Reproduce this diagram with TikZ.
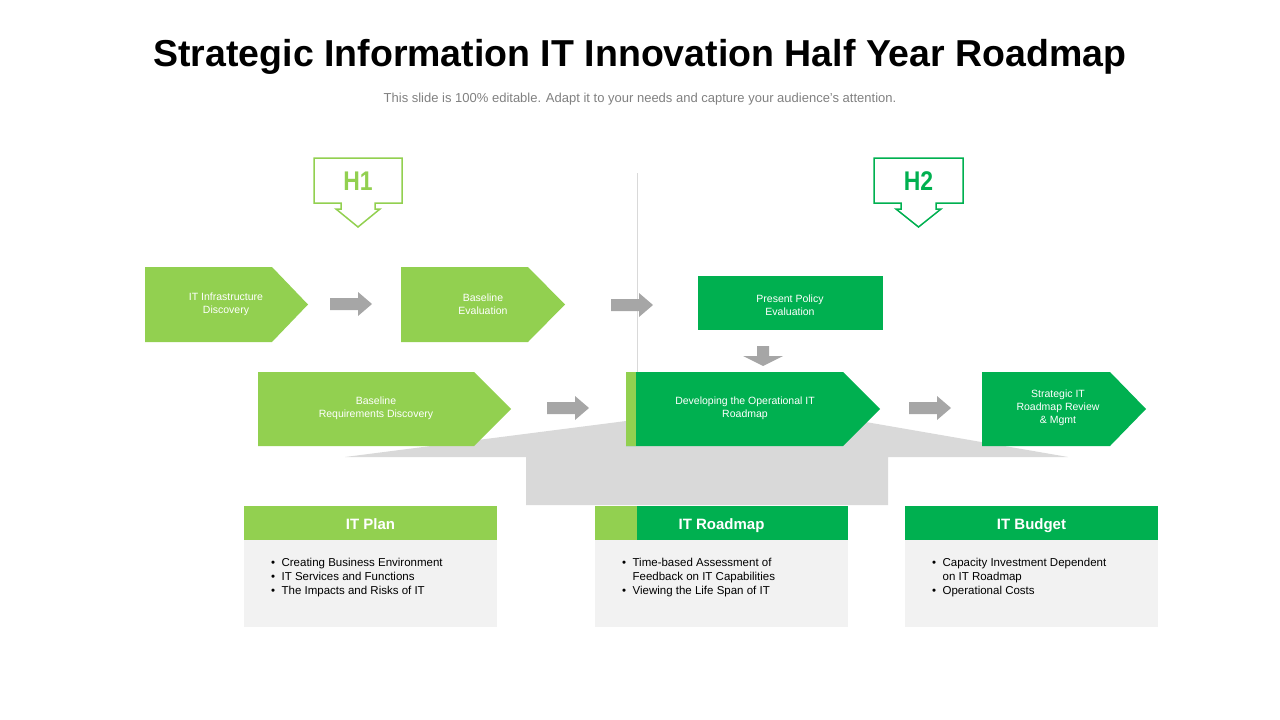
\documentclass[tikz,border=0pt]{standalone}
\usepackage{fontspec}
\setmainfont{Liberation Sans}
\definecolor{lg}{HTML}{92D050}
\definecolor{dg}{HTML}{00B050}
\definecolor{ga}{HTML}{A6A6A6}
\definecolor{gs}{HTML}{D9D9D9}
\definecolor{bodyg}{HTML}{F2F2F2}
\begin{document}
\begin{tikzpicture}[x=1pt,y=-1pt,
  lbl/.style={text=white,font=\fontsize{10.5}{13}\selectfont,align=center},
  hdr/.style={text=white,font=\bfseries\fontsize{15}{18}\selectfont,text depth=0pt,text height=11pt},
  bl/.style={font=\fontsize{11.5}{14}\selectfont,align=left,anchor=north west,inner sep=0pt}]
\useasboundingbox (0,0) rectangle (1280,720);
\node[font=\bfseries\fontsize{37.5}{42}\selectfont] (title) at (640,57) {Strategic Information IT Innovation Half Year Roadmap};
\node[text=gray,font=\fontsize{13}{15}\selectfont] (sub) at (640,99) {This slide is 100\% editable. Adapt it to your needs and capture your audience's attention.};
% divider
\draw[gs,line width=1pt] (637,173) -- (637,372);
% gray funnel
\fill[gs] (345,457) -- (626,421) -- (860,421) -- (1068,457) -- (888,457) -- (888,505) -- (526,505) -- (526,457) -- cycle;
% callouts
\draw[lg,line width=1.5pt,fill=white] (314,158) -- (402,158) -- (402,203) -- (375,203) -- (375,209) -- (380,209) -- (358,227) -- (336,209) -- (341,209) -- (341,203) -- (314,203) -- cycle;
\node[lg,font=\bfseries\fontsize{27}{30}\selectfont,xscale=0.85] (h1) at (358,181) {H1};
\draw[dg,line width=1.5pt,fill=white] (874,158) -- (963,158) -- (963,203) -- (936,203) -- (936,209) -- (941,209) -- (918.5,227) -- (896,209) -- (901,209) -- (901,203) -- (874,203) -- cycle;
\node[dg,font=\bfseries\fontsize{27}{30}\selectfont,xscale=0.85] (h2) at (918.5,181) {H2};
% chevrons
\fill[lg] (145,267) -- (272,267) -- (308,304.5) -- (272,342) -- (145,342) -- cycle;
\node[lbl] (c1) at (226,304) {IT Infrastructure\\Discovery};
\fill[lg] (401,267) -- (528,267) -- (565,304.5) -- (528,342) -- (401,342) -- cycle;
\node[lbl] (c2) at (483,304) {Baseline\\Evaluation};
\fill[dg] (698,276) rectangle (883,330);
\node[lbl] (c3) at (790,305) {Present Policy\\Evaluation};
\fill[lg] (258,372) -- (474,372) -- (511,409) -- (474,446) -- (258,446) -- cycle;
\node[lbl] (c4) at (376,408) {Baseline\\Requirements Discovery};
\fill[dg] (626,372) -- (843,372) -- (880,409) -- (843,446) -- (626,446) -- cycle;
\fill[lg] (626,372) rectangle (636,446);
\node[lbl] (c5) at (745,408) {Developing the Operational IT\\Roadmap};
\fill[dg] (982,372) -- (1110,372) -- (1146,409) -- (1110,446) -- (982,446) -- cycle;
\node[lbl] (c6) at (1058,408) {Strategic IT\\Roadmap Review\\\& Mgmt};
% gray arrows
\foreach \x/\y in {330/304, 611/305, 547/408, 909/408}{
  \fill[ga] (\x,\y-6) -- (\x+28,\y-6) -- (\x+28,\y-12) -- (\x+42,\y) -- (\x+28,\y+12) -- (\x+28,\y+6) -- (\x,\y+6) -- cycle;}
\fill[ga] (757,346) -- (769,346) -- (769,356) -- (783,356) -- (763,366) -- (743,356) -- (757,356) -- cycle;
% cards
\fill[lg] (244,506) rectangle (497,540);
\fill[bodyg] (244,540) rectangle (497,627);
\node[hdr] (k1) at (370.5,524) {IT Plan};
\node[bl] (b1) at (271,558) {•\ \ Creating Business Environment\\•\ \ IT Services and Functions\\•\ \ The Impacts and Risks of IT};
\fill[dg] (595,506) rectangle (848,540);
\fill[lg] (595,506) rectangle (637,540);
\fill[bodyg] (595,540) rectangle (848,627);
\node[hdr] (k2) at (721.5,524) {IT Roadmap};
\node[bl] (b2) at (622,558) {•\ \ Time-based Assessment of\\\phantom{•}\ \ Feedback on IT Capabilities\\•\ \ Viewing the Life Span of IT};
\fill[dg] (905,506) rectangle (1158,540);
\fill[bodyg] (905,540) rectangle (1158,627);
\node[hdr] (k3) at (1031.5,524) {IT Budget};
\node[bl] (b3) at (932,558) {•\ \ Capacity Investment Dependent\\\phantom{•}\ \ on IT Roadmap\\•\ \ Operational Costs};
\end{tikzpicture}
\end{document}
